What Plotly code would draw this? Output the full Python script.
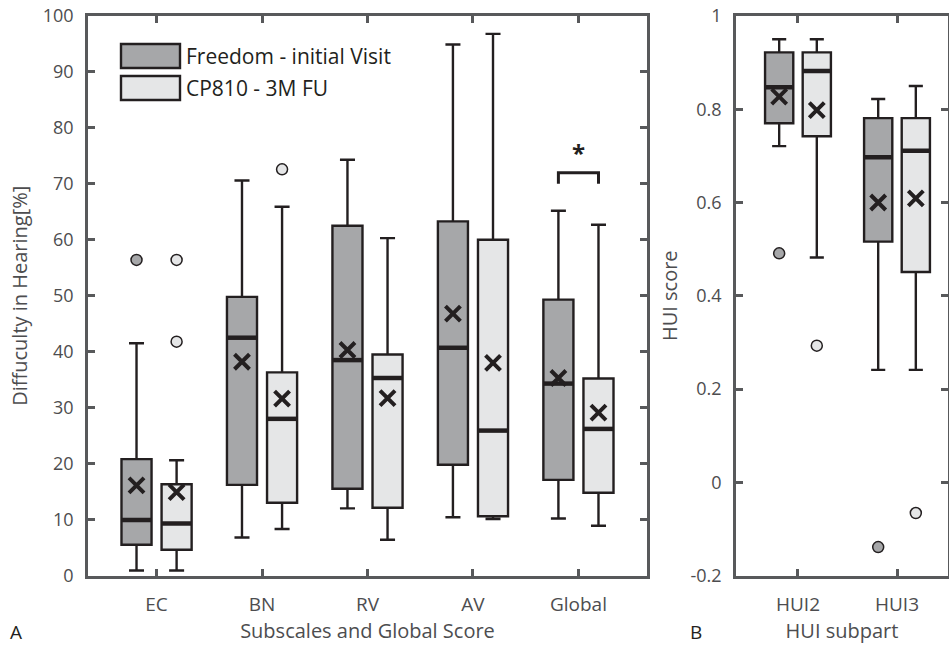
import plotly.graph_objects as go

# ---------------- data ----------------
subscales = ["EC", "BN", "RV", "AV", "Global"]
# Freedom - initial Visit
fr_low = [0.9, 6.8, 12.0, 10.4, 10.2]
fr_q1 = [5.5, 16.2, 15.5, 19.8, 17.1]
fr_med = [9.9, 42.5, 38.5, 40.7, 34.3]
fr_q3 = [20.8, 49.8, 62.5, 63.3, 49.3]
fr_high = [41.5, 70.6, 74.3, 94.9, 65.2]
fr_mean = [16.1, 38.2, 40.3, 46.8, 35.3]
fr_out_cat = [0]
fr_out_val = [56.4]
# CP810 - 3M FU
cp_low = [0.9, 8.3, 6.4, 10.1, 8.9]
cp_q1 = [4.6, 13.0, 12.1, 10.6, 14.8]
cp_med = [9.3, 28.0, 35.3, 25.9, 26.2]
cp_q3 = [16.3, 36.3, 39.5, 60.0, 35.2]
cp_high = [20.6, 65.9, 60.3, 96.8, 62.7]
cp_mean = [14.9, 31.6, 31.7, 38.0, 29.1]
cp_out_cat = [0, 0, 1]
cp_out_val = [56.4, 41.8, 72.6]
sig_cat = 4
sig_y = 72.0

hui_parts = ["HUI2", "HUI3"]
h_fr_low = [0.721, 0.241]
h_fr_q1 = [0.770, 0.516]
h_fr_med = [0.847, 0.697]
h_fr_q3 = [0.922, 0.781]
h_fr_high = [0.950, 0.822]
h_fr_mean = [0.827, 0.600]
h_fr_out_cat = [0, 1]
h_fr_out_val = [0.491, -0.139]
h_cp_low = [0.482, 0.241]
h_cp_q1 = [0.742, 0.451]
h_cp_med = [0.882, 0.711]
h_cp_q3 = [0.922, 0.781]
h_cp_high = [0.950, 0.850]
h_cp_mean = [0.798, 0.609]
h_cp_out_cat = [0, 1]
h_cp_out_val = [0.293, -0.066]

series_names = ["Freedom - initial Visit", "CP810 - 3M FU"]

# ---------------- style ----------------
DARK = "#a6a7a9"
LIGHT = "#e5e6e7"
INK = "#231f20"
AX = "#58595b"
TXT = "#4d4d4f"
FONT = "Open Sans"
OFF = 0.19
BW = 0.285

fig = go.Figure()


def add_panel(xa, ya, cats, groups):
    n = len(cats)
    for (color, off, low, q1, med, q3, high, mean, oc, ov) in groups:
        xs = [i + off for i in range(n)]
        fig.add_trace(go.Box(
            x=xs, q1=q1, median=med, q3=q3, lowerfence=low, upperfence=high,
            width=BW, whiskerwidth=0.5, fillcolor=color,
            line=dict(color=INK, width=2.4), boxpoints=False,
            xaxis=xa, yaxis=ya, showlegend=False, hoverinfo="skip"))
        # thick median
        mx, my = [], []
        for i in range(n):
            mx += [xs[i] - BW / 2, xs[i] + BW / 2, None]
            my += [med[i], med[i], None]
        fig.add_trace(go.Scatter(x=mx, y=my, mode="lines",
                                 line=dict(color=INK, width=4.5),
                                 xaxis=xa, yaxis=ya, showlegend=False, hoverinfo="skip"))
        # means
        fig.add_trace(go.Scatter(x=xs, y=mean, mode="markers",
                                 marker=dict(symbol="x-thin-open", size=15, color=INK,
                                             line=dict(color=INK, width=4)),
                                 xaxis=xa, yaxis=ya, showlegend=False, hoverinfo="skip"))
        # outliers
        fig.add_trace(go.Scatter(x=[c + off for c in oc], y=ov, mode="markers",
                                 marker=dict(symbol="circle", size=11, color=color,
                                             line=dict(color=INK, width=1.5)),
                                 xaxis=xa, yaxis=ya, showlegend=False, hoverinfo="skip"))


add_panel("x", "y", subscales, [
    (DARK, -OFF, fr_low, fr_q1, fr_med, fr_q3, fr_high, fr_mean, fr_out_cat, fr_out_val),
    (LIGHT, OFF, cp_low, cp_q1, cp_med, cp_q3, cp_high, cp_mean, cp_out_cat, cp_out_val),
])
add_panel("x2", "y2", hui_parts, [
    (DARK, -OFF, h_fr_low, h_fr_q1, h_fr_med, h_fr_q3, h_fr_high, h_fr_mean, h_fr_out_cat, h_fr_out_val),
    (LIGHT, OFF, h_cp_low, h_cp_q1, h_cp_med, h_cp_q3, h_cp_high, h_cp_mean, h_cp_out_cat, h_cp_out_val),
])

# significance bracket
fig.add_trace(go.Scatter(
    x=[sig_cat - OFF, sig_cat - OFF, sig_cat + OFF, sig_cat + OFF],
    y=[sig_y - 2, sig_y, sig_y, sig_y - 2], mode="lines",
    line=dict(color=INK, width=3), xaxis="x", yaxis="y",
    showlegend=False, hoverinfo="skip"))
fig.add_annotation(x=sig_cat, y=sig_y + 0.3, xref="x", yref="y", text="<b>*</b>",
                   showarrow=False, yanchor="bottom",
                   font=dict(family=FONT, size=24, color=INK))

axis_common = dict(showline=True, linecolor=AX, linewidth=2.5, mirror="ticks",
                   ticks="inside", tickcolor=AX, tickwidth=2.5, ticklen=7,
                   showgrid=False, zeroline=False, automargin=False)
xtick_font = dict(family=FONT, size=19, color=TXT)
ytick_font = dict(family=FONT, size=18, color=TXT)
xtitle_font = dict(family=FONT, size=20, color=TXT)
ytitle_font = dict(family=FONT, size=20, color=TXT)

yd = [1 - 575.5 / 651, 1 - 16 / 651]
fig.update_layout(
    width=949, height=651, margin=dict(l=0, r=0, t=0, b=0, autoexpand=False),
    paper_bgcolor="white", plot_bgcolor="white", boxmode="overlay",
    showlegend=False,
    xaxis=dict(domain=[88 / 949, 647 / 949], range=[-0.65, 4.65],
               tickvals=list(range(len(subscales))), ticktext=subscales,
               ticklabelstandoff=10, anchor="y", tickfont=xtick_font,
               title=dict(text="Subscales and Global Score", standoff=8, font=xtitle_font),
               **axis_common),
    yaxis=dict(domain=yd, range=[0, 100], tickvals=list(range(0, 101, 10)),
               ticklabelstandoff=8, anchor="x", tickfont=ytick_font,
               title=dict(text="Diffuculty in Hearing[%]", standoff=10, font=ytitle_font),
               **axis_common),
    xaxis2=dict(domain=[736 / 949, 948 / 949], range=[-0.626, 1.515],
                tickvals=[0, 1], ticktext=hui_parts, ticklabelstandoff=10, anchor="y2",
                tickfont=xtick_font,
                title=dict(text="HUI subpart", standoff=8, font=xtitle_font),
                **axis_common),
    yaxis2=dict(domain=yd, range=[-0.2, 1.0],
                tickvals=[-0.2, 0, 0.2, 0.4, 0.6, 0.8, 1.0],
                ticktext=["-0.2", "0", "0.2", "0.4", "0.6", "0.8", "1"],
                ticklabelstandoff=8, anchor="x2", tickfont=ytick_font,
                title=dict(text="HUI score", standoff=8, font=ytitle_font),
                **axis_common),
)

# panel letters
fig.add_annotation(x=8 / 949, y=1 - 632 / 651, xref="paper", yref="paper", text="A",
                   showarrow=False, xanchor="left", yanchor="middle",
                   font=dict(family=FONT, size=19, color=INK))
fig.add_annotation(x=688 / 949, y=1 - 632 / 651, xref="paper", yref="paper", text="B",
                   showarrow=False, xanchor="left", yanchor="middle",
                   font=dict(family=FONT, size=19, color=INK))

# legend (patches + text)
for k, (name, col) in enumerate(zip(series_names, [DARK, LIGHT])):
    y0 = 44 + k * 32
    fig.add_shape(type="rect", xref="paper", yref="paper",
                  x0=121 / 949, x1=180 / 949, y0=1 - (y0 + 24) / 651, y1=1 - y0 / 651,
                  fillcolor=col, line=dict(color=INK, width=2.4))
    fig.add_annotation(x=184 / 949, y=1 - (y0 + 12) / 651, xref="paper", yref="paper",
                       text=name, showarrow=False, xanchor="left", yanchor="middle",
                       font=dict(family=FONT, size=21, color=INK))

fig.write_html("out.html", config={"displayModeBar": False},
               post_script="document.body.style.margin='0';")
